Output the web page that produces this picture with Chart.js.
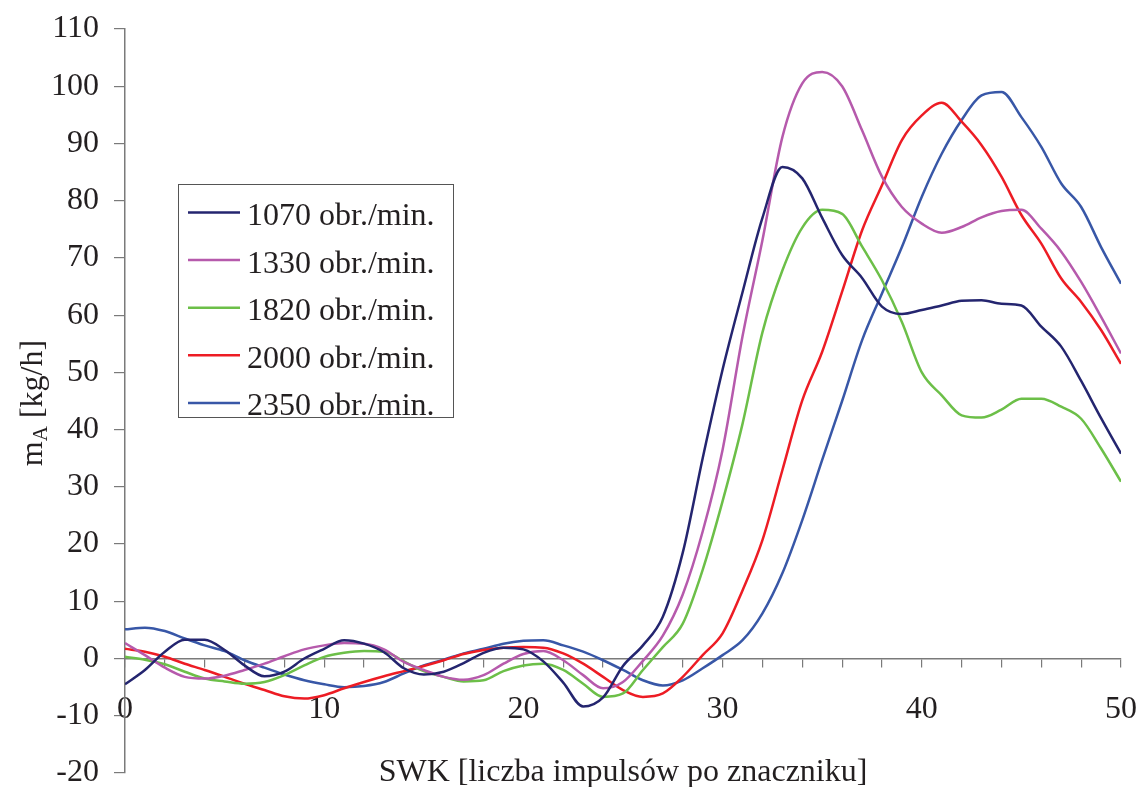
<!DOCTYPE html>
<html>
<head>
<meta charset="utf-8">
<script src="https://cdn.jsdelivr.net/npm/chart.js@4.4.0/dist/chart.umd.min.js"></script>
<style>
  html, body { margin: 0; padding: 0; background: #fff; }
  #wrap { width: 1140px; height: 787px; }
</style>
</head>
<body>
<div id="wrap"><canvas id="wykres"></canvas></div>
<script>
// SWK - liczba impulsów po znaczniku
const swk = [0, 1, 2, 3, 4, 5, 6, 7, 8, 9, 10, 11, 12, 13, 14, 15, 16, 17, 18, 19, 20,
  21, 22, 23, 24, 25, 26, 27, 28, 29, 30, 31, 32, 33, 34, 35, 36, 37, 38, 39, 40,
  41, 42, 43, 44, 45, 46, 47, 48, 49, 50];

// mA [kg/h] dla poszczególnych prędkości obrotowych
const m1070 = [-4.5, -2.0, 1.2, 3.3, 3.3, 1.5, -1.2, -3.1, -2.3, 0.0, 1.7,
  3.2, 2.6, 1.1, -1.7, -2.8, -2.3, -0.8, 1.0, 1.9, 1.6,
  -0.5, -4.2, -8.4, -6.8, -1.3, 2.3, 7.3, 18.5, 35.0, 50.5,
  64.0, 77.0, 85.9, 83.9, 77.0, 70.5, 66.5, 61.5, 60.2, 60.9,
  61.7, 62.5, 62.6, 62.0, 61.7, 58.0, 54.5, 48.5, 42.0, 35.8];
const m1330 = [2.7, 0.6, -1.6, -3.2, -3.5, -3.0, -2.0, -0.9, 0.4, 1.6, 2.3,
  2.7, 2.6, 1.6, -0.6, -2.0, -3.2, -3.7, -2.9, -0.9, 0.8,
  1.3, -0.3, -2.9, -5.2, -4.1, -0.4, 4.0, 11.2, 22.2, 36.5,
  56.3, 73.1, 91.1, 100.5, 102.5, 100.0, 92.3, 84.2, 78.9, 76.0,
  74.4, 75.4, 77.1, 78.2, 78.4, 75.1, 71.1, 65.8, 59.7, 53.3];
const m1820 = [0.3, -0.2, -1.0, -2.3, -3.5, -4.0, -4.4, -4.1, -2.9, -1.2, 0.3,
  1.0, 1.3, 1.2, -0.5, -2.2, -3.2, -4.0, -3.8, -2.2, -1.2,
  -0.9, -2.0, -4.4, -6.7, -6.1, -2.0, 2.0, 6.1, 15.5, 27.5,
  41.0, 57.0, 67.8, 75.3, 78.4, 77.7, 72.0, 66.1, 58.8, 50.0,
  46.0, 42.5, 42.1, 43.5, 45.4, 45.4, 44.0, 41.9, 36.7, 30.9];
const m2000 = [1.7, 1.2, 0.3, -0.9, -2.0, -3.2, -4.4, -5.5, -6.6, -7.0, -6.4,
  -5.2, -4.1, -3.1, -2.2, -1.3, -0.3, 0.8, 1.5, 1.9, 2.0,
  1.9, 0.9, -0.9, -3.2, -5.5, -6.7, -6.1, -3.2, 0.6, 4.4,
  11.9, 20.7, 32.9, 45.1, 53.6, 64.1, 74.8, 82.7, 90.6, 94.9,
  97.1, 93.8, 89.7, 84.2, 77.5, 72.5, 66.4, 62.3, 57.4, 51.5];
const m2350 = [5.1, 5.4, 4.8, 3.5, 2.3, 1.3, -0.3, -1.6, -2.8, -3.8, -4.5,
  -5.0, -4.8, -4.1, -2.6, -1.2, -0.2, 0.9, 1.7, 2.6, 3.1,
  3.2, 2.3, 1.2, -0.3, -2.0, -3.8, -4.7, -3.8, -1.7, 0.6,
  3.2, 7.9, 14.9, 24.2, 34.7, 45.0, 55.6, 63.8, 71.9, 80.7,
  88.2, 94.1, 98.4, 99.0, 94.6, 89.4, 83.0, 78.9, 71.9, 65.5];

const serie = ["1070 obr./min.", "1330 obr./min.", "1820 obr./min.", "2000 obr./min.", "2350 obr./min."];
const kolory = ["#24256f", "#b65aac", "#6cbf48", "#ed1c24", "#3857a7"];
const wartosci = [m1070, m1330, m1820, m2000, m2350];

const czcionka = "'Liberation Serif', 'Times New Roman', serif";
const kolorTekstu = "#231f20";
const kolorOsi = "#7a7a7a";

// Opisy osi (z indeksem dolnym przy mA)
const opisyOsi = {
  id: "opisyOsi",
  afterDraw(chart) {
    const { ctx, chartArea } = chart;
    ctx.save();
    ctx.fillStyle = kolorTekstu;
    ctx.font = "32px " + czcionka;
    ctx.textAlign = "center";
    ctx.textBaseline = "alphabetic";
    ctx.fillText("SWK [liczba impulsów po znaczniku]", (chartArea.left + chartArea.right) / 2, chart.height - 6);

    const czesci = [["m", 32, 0], ["A", 21, 5], [" [kg/h]", 32, 0]];
    let suma = 0;
    czesci.forEach(c => { ctx.font = c[1] + "px " + czcionka; suma += ctx.measureText(c[0]).width; });
    ctx.translate(42, (chartArea.top + chartArea.bottom) / 2 + 2);
    ctx.rotate(-Math.PI / 2);
    ctx.textAlign = "left";
    let x = -suma / 2;
    czesci.forEach(c => {
      ctx.font = c[1] + "px " + czcionka;
      ctx.fillText(c[0], x, c[2]);
      x += ctx.measureText(c[0]).width;
    });
    ctx.restore();
  }
};

// Legenda w ramce wewnątrz wykresu
const legenda = {
  id: "legenda",
  afterDraw(chart) {
    const { ctx, chartArea } = chart;
    const x0 = chartArea.left + 53, y0 = chartArea.top + 155;
    const w = 275, h = 233;
    ctx.save();
    ctx.fillStyle = "#fff";
    ctx.fillRect(x0, y0, w, h);
    ctx.strokeStyle = "#555";
    ctx.lineWidth = 1;
    ctx.strokeRect(Math.round(x0) + 0.5, Math.round(y0) + 0.5, w, h);
    ctx.font = "32px " + czcionka;
    ctx.textAlign = "left";
    ctx.textBaseline = "alphabetic";
    chart.data.datasets.forEach((ds, i) => {
      const y = y0 + 28.5 + i * 47.6;
      ctx.strokeStyle = ds.borderColor;
      ctx.lineWidth = 2.5;
      ctx.beginPath();
      ctx.moveTo(x0 + 10, y);
      ctx.lineTo(x0 + 62, y);
      ctx.stroke();
      ctx.fillStyle = kolorTekstu;
      ctx.fillText(ds.label, x0 + 69, y + 12.5);
    });
    ctx.restore();
  }
};

const ctx = document.getElementById("wykres");
new Chart(ctx, {
  type: "line",
  data: {
    datasets: serie.map((nazwa, i) => ({
      label: nazwa,
      data: wartosci[i].map((v, j) => ({ x: swk[j], y: v })),
      borderColor: kolory[i],
      backgroundColor: kolory[i],
      borderWidth: 2.5,
      pointRadius: 0,
      fill: false,
      cubicInterpolationMode: "monotone"
    }))
  },
  options: {
    responsive: true,
    maintainAspectRatio: false,
    animation: false,
    layout: { padding: { top: 29, right: 19, bottom: 14, left: 0 } },
    plugins: {
      legend: { display: false },
      tooltip: { enabled: false }
    },
    scales: {
      x: {
        type: "linear",
        position: { y: 0 },
        min: 0,
        max: 50,
        afterFit(scale) {
          scale.height = 0;
          scale.paddingLeft = 0;
          scale.paddingRight = 0;
        },
        ticks: {
          stepSize: 2,
          autoSkip: false,
          maxRotation: 0,
          padding: 24,
          color: kolorTekstu,
          font: { family: czcionka, size: 32 },
          callback: v => (v % 10 === 0 ? v : "")
        },
        grid: { drawOnChartArea: false, tickLength: 8, color: kolorOsi, lineWidth: 1.2 },
        border: { color: kolorOsi, width: 1.5 }
      },
      y: {
        position: "left",
        min: -20,
        max: 110,
        afterFit(scale) {
          scale.width = 125;
          scale.paddingTop = 0;
          scale.paddingBottom = 0;
        },
        ticks: {
          stepSize: 10,
          padding: 15,
          color: kolorTekstu,
          font: { family: czcionka, size: 32 }
        },
        grid: { drawOnChartArea: false, tickLength: 11, color: kolorOsi, lineWidth: 1.2 },
        border: { color: kolorOsi, width: 1.5 }
      }
    }
  },
  plugins: [opisyOsi, legenda]
});
</script>
</body>
</html>
